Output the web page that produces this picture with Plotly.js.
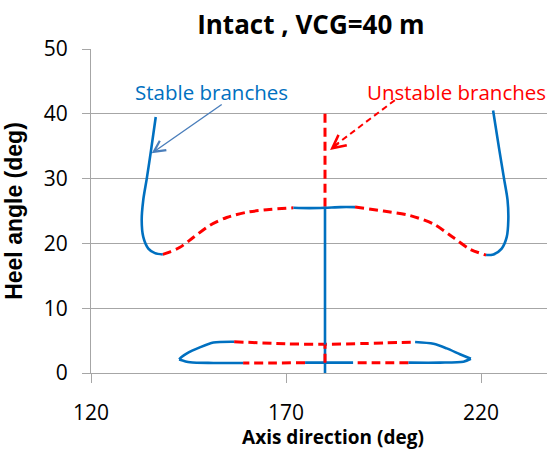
<!DOCTYPE html>
<html>
<head>
<meta charset="utf-8">
<script src="https://cdn.plot.ly/plotly-3.0.1.min.js"></script>
<style>
html, body { margin: 0; padding: 0; overflow: hidden; background: #fff; }
#chart { width: 580px; height: 450px; }
</style>
</head>
<body>
<div id="chart"></div>
<script>
// ---- Data (axis direction in deg, heel angle in deg) ----
// Upper equilibrium curve
const leftStableX   = [136.6, 135.4, 134.3, 133.4, 133.0, 133.4, 134.7, 136.4, 138.4];
const leftStableY   = [39.5, 34.4, 30.0, 26.7, 23.6, 21.0, 19.2, 18.5, 18.3];
const leftUnstableX = [138.4, 140.3, 142.8, 146.2, 150.5, 154.8, 159.9, 165.1, 171.9];
const leftUnstableY = [18.3, 18.7, 19.4, 20.9, 22.8, 24.0, 24.8, 25.2, 25.5];
const midStableX    = [171.9, 176.0, 180.0, 184.0, 187.7];
const midStableY    = [25.5, 25.45, 25.5, 25.6, 25.6];
const rightUnstableX = [187.7, 195.0, 201.8, 207.8, 212.9, 217.2, 221.3];
const rightUnstableY = [25.6, 25.0, 24.3, 23.0, 20.9, 19.1, 18.2];
const rightStableX  = [221.3, 223.2, 225.3, 226.6, 227.0, 226.8, 225.9, 224.7, 223.1];
const rightStableY  = [18.2, 18.3, 19.2, 21.0, 23.6, 26.7, 30.0, 34.4, 40.5];
// Vertical branch at 180 deg
const vertStableX   = [180, 180];
const vertStableY   = [25.5, 0];
const vertUnstableX = [180, 180];
const vertUnstableY = [40, 25.5];
const vertLowUnstableX = [180, 180];
const vertLowUnstableY = [1.6, 4.4];
// Lower loop
const loopUpLeftStableX  = [142.6, 143.3, 144.5, 147.9, 151.4, 156.7];
const loopUpLeftStableY  = [2.1, 2.5, 3.0, 3.95, 4.7, 4.83];
const loopUpUnstableX    = [156.7, 170.0, 180.0, 190.0, 203.1];
const loopUpUnstableY    = [4.83, 4.5, 4.43, 4.55, 4.78];
const loopUpRightStableX = [203.1, 207.8, 211.2, 214.6, 217.4];
const loopUpRightStableY = [4.78, 4.5, 3.8, 2.9, 2.2];
const loopLowRightStableX = [217.4, 215.5, 209.5, 201.4];
const loopLowRightStableY = [2.2, 1.75, 1.6, 1.6];
const loopLowRightUnstableX = [201.4, 194.0, 187.2];
const loopLowRightUnstableY = [1.6, 1.6, 1.6];
const loopLowMidStableX  = [187.2, 180.0, 174.9];
const loopLowMidStableY  = [1.6, 1.6, 1.6];
const loopLowLeftUnstableX = [174.9, 167.0, 159.0];
const loopLowLeftUnstableY = [1.6, 1.55, 1.55];
const loopLowLeftStableX = [159.0, 151.4, 145.4, 142.6];
const loopLowLeftStableY = [1.55, 1.55, 1.65, 2.1];

const xTicks = [120, 170, 220];

const BLUE = '#0070C0';
const RED = '#FF0000';

function stable(x, y) {
  return {x: x, y: y, type: 'scatter', mode: 'lines', line: {color: BLUE, width: 2.6, shape: 'spline', smoothing: 0.8}, hoverinfo: 'skip', showlegend: false};
}
function unstable(x, y) {
  return {x: x, y: y, type: 'scatter', mode: 'lines', line: {color: RED, width: 3, dash: '9px,5px', shape: 'spline', smoothing: 0.8}, hoverinfo: 'skip', showlegend: false};
}

const traces = [
  unstable(leftUnstableX, leftUnstableY),
  unstable(rightUnstableX, rightUnstableY),
  unstable(vertUnstableX, vertUnstableY),
  unstable(loopUpUnstableX, loopUpUnstableY),
  unstable(loopLowRightUnstableX, loopLowRightUnstableY),
  unstable(loopLowLeftUnstableX, loopLowLeftUnstableY),
  stable(leftStableX, leftStableY),
  stable(midStableX, midStableY),
  stable(rightStableX, rightStableY),
  stable(vertStableX, vertStableY),
  stable(loopUpLeftStableX, loopUpLeftStableY),
  stable(loopUpRightStableX, loopUpRightStableY),
  stable(loopLowRightStableX, loopLowRightStableY),
  stable(loopLowMidStableX, loopLowMidStableY),
  stable(loopLowLeftStableX, loopLowLeftStableY),
  unstable(vertLowUnstableX, vertLowUnstableY)
];

const GRID = '#a6a6a6';
const FONT = 'Open Sans, sans-serif';
const YFONT = 'Liberation Sans, Arial, sans-serif';

const layout = {
  width: 580, height: 450,
  margin: {l: 91, r: 5, t: 49, b: 77},
  paper_bgcolor: '#fff', plot_bgcolor: '#fff',
  font: {family: FONT, color: '#000'},
  showlegend: false,
  title: {
    text: '<b>Intact , VCG=40 m</b>',
    font: {family: FONT, size: 26, color: '#000'},
    xref: 'container', x: 0.536, xanchor: 'center',
    yref: 'container', y: 1 - 25/450, yanchor: 'middle'
  },
  xaxis: {
    range: [120, 244.1],
    tickvals: xTicks,
    ticktext: xTicks.map(String),
    showgrid: false, zeroline: false,
    showline: true, linecolor: GRID, linewidth: 1,
    ticks: 'outside', ticklen: 9, tickcolor: GRID, tickwidth: 1,
    tickfont: {family: FONT, size: 21, color: '#000'},
    ticklabelstandoff: 12,
    title: {text: '<b>Axis direction (deg)</b>', font: {family: FONT, size: 19, color: '#000'}, standoff: 2}
  },
  yaxis: {
    range: [0, 50], dtick: 10,
    showgrid: true, gridcolor: GRID, gridwidth: 1,
    zeroline: false,
    showline: true, linecolor: GRID, linewidth: 1,
    ticks: 'outside', ticklen: 8, tickcolor: GRID, tickwidth: 1,
    tickfont: {family: FONT, size: 21, color: '#000'},
    ticklabelstandoff: 10,
    title: {text: '<b>Heel angle (deg)</b>', font: {family: YFONT, size: 23, color: '#000'}, standoff: 14}
  },
  shapes: [
    {type: 'line', xref: 'x', yref: 'y', x0: 197.9, y0: 42.1, x1: 182.2, y1: 34.95,
     line: {color: RED, width: 2, dash: '6px,4px'}}
  ],
  annotations: [
    {text: 'Stable branches', x: 150.8, y: 43.4, xref: 'x', yref: 'y', showarrow: false,
     font: {family: FONT, size: 20.5, color: BLUE}, xanchor: 'center', yanchor: 'middle'},
    {text: 'Unstable branches', x: 213.8, y: 43.4, xref: 'x', yref: 'y', showarrow: false,
     font: {family: FONT, size: 20.5, color: RED}, xanchor: 'center', yanchor: 'middle'},
    {text: '', x: 135.56, y: 33.9, xref: 'x', yref: 'y', axref: 'x', ayref: 'y', ax: 153.9, ay: 41.6,
     showarrow: true, arrowhead: 5, arrowsize: 1.6, arrowwidth: 1.4, arrowcolor: '#4a7ebb', standoff: 0},
    {text: '', x: 181.3, y: 34.4, xref: 'x', yref: 'y', ax: 10, ay: -8,
     showarrow: true, arrowhead: 5, arrowsize: 1.3, arrowwidth: 2, arrowcolor: RED, standoff: 0}
  ]
};

Plotly.newPlot('chart', traces, layout, {displayModeBar: false, staticPlot: true});
</script>
</body>
</html>
